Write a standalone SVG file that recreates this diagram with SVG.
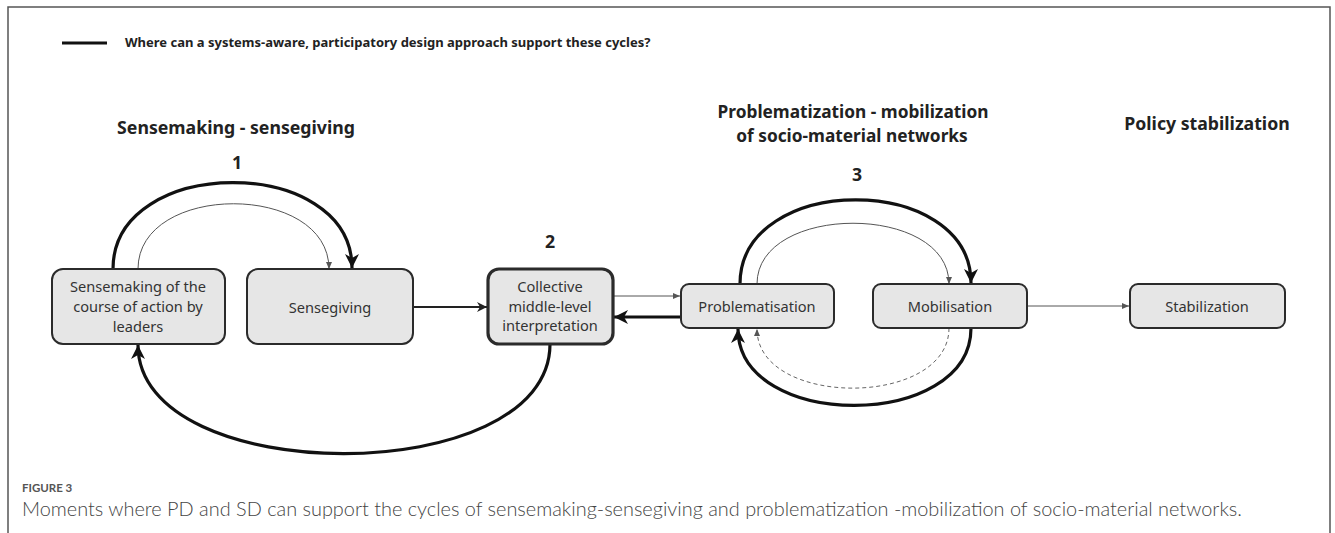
<svg xmlns="http://www.w3.org/2000/svg" width="1335" height="533" viewBox="0 0 1335 533">
<defs>
<style>
.node rect{fill:#e6e6e6;stroke:#2b2b2b;stroke-width:2}
.node.strong rect{stroke-width:3.2}
.node text{font-family:"Noto Sans","Open Sans",sans-serif;font-size:14.6px;fill:#333;text-anchor:middle}
.h{font-family:"Noto Sans","Open Sans",sans-serif;font-weight:700;font-size:17.7px;fill:#222;text-anchor:middle}
.h2{font-family:"Noto Sans","Open Sans",sans-serif;font-weight:700;font-size:17.3px;fill:#222;text-anchor:middle}
.num{font-family:"Noto Sans","Open Sans",sans-serif;font-weight:700;font-size:17.7px;fill:#222;text-anchor:middle}
.c-thick{fill:none;stroke:#111;stroke-width:3.2}
.c-thin{fill:none;stroke:#555;stroke-width:1}
.c-med{fill:none;stroke:#222;stroke-width:2.2}
.c-dash{fill:none;stroke:#666;stroke-width:1;stroke-dasharray:4 3}
</style>
<marker id="ahBig" markerUnits="userSpaceOnUse" markerWidth="16" markerHeight="14" refX="14" refY="7" orient="auto">
<path d="M0,0 L14,7 L0,14 L4,7 Z" fill="#111"/>
</marker>
<marker id="ahMed" markerUnits="userSpaceOnUse" markerWidth="12" markerHeight="12" refX="10" refY="6" orient="auto">
<path d="M0,1 L10,6 L0,11 L3,6 Z" fill="#222"/>
</marker>
<marker id="ahSmall" markerUnits="userSpaceOnUse" markerWidth="8" markerHeight="8" refX="7" refY="4" orient="auto">
<path d="M0,1 L7,4 L0,7 Z" fill="#555"/>
</marker>
</defs>
<rect x="0" y="0" width="1335" height="533" fill="#fff"/>
<path d="M8,540 L8,7 L1330,7 L1330,540" fill="none" stroke="#555" stroke-width="1.5"/>

<g id="legend">
<line x1="62" y1="43" x2="107" y2="43" stroke="#111" stroke-width="3"/>
<text x="125" y="47" font-family="Noto Sans, Open Sans, sans-serif" font-weight="700" font-size="13" fill="#222">Where can a systems-aware, participatory design approach support these cycles?</text>
</g>

<g id="headings">
<text class="h" x="236" y="134">Sensemaking - sensegiving</text>
<text class="h2" x="853" y="118">Problematization - mobilization</text>
<text class="h2" x="852" y="142">of socio-material networks</text>
<text class="h" x="1207" y="130">Policy stabilization</text>
<text class="num" x="237" y="169">1</text>
<text class="num" x="550" y="248">2</text>
<text class="num" x="857" y="181">3</text>
</g>

<g id="connectors">
<path class="c-thick" d="M113,269 C113,154 352,154 352,268" marker-end="url(#ahBig)"/>
<path class="c-thin" d="M138,269 C138,182 329,182 329,269" marker-end="url(#ahSmall)"/>
<path class="c-med" d="M412,307 L487,307" marker-end="url(#ahMed)"/>
<path class="c-thin" d="M613,296 L680,296" marker-end="url(#ahSmall)"/>
<path class="c-thick" d="M681,317 L614,317" marker-end="url(#ahBig)"/>
<path class="c-thick" d="M550,344 C550,490 138,490 138,345" marker-end="url(#ahBig)"/>
<path class="c-thick" d="M740,284 C740,172 971,172 971,283" marker-end="url(#ahBig)"/>
<path class="c-thin" d="M757,284 C757,203 949,203 949,284" marker-end="url(#ahSmall)"/>
<path class="c-thick" d="M971,328 C971,431 738,431 738,329" marker-end="url(#ahBig)"/>
<path class="c-dash" d="M949,328 C949,408 757,408 757,329" marker-end="url(#ahSmall)"/>
<path class="c-thin" d="M1027,306 L1129,306" marker-end="url(#ahSmall)"/>
</g>

<g id="n1" class="node">
<rect x="52" y="269" width="173" height="75" rx="11"/>
<text x="138" y="292">Sensemaking of the</text>
<text x="138" y="312">course of action by</text>
<text x="138" y="332">leaders</text>
</g>
<g id="n2" class="node">
<rect x="247" y="269" width="166" height="75" rx="11"/>
<text x="330" y="313">Sensegiving</text>
</g>
<g id="n3" class="node strong">
<rect x="488" y="269" width="125" height="75" rx="11"/>
<text x="550" y="292">Collective</text>
<text x="550" y="312">middle-level</text>
<text x="550" y="331">interpretation</text>
</g>
<g id="n4" class="node">
<rect x="681" y="284" width="153" height="44" rx="8"/>
<text x="757" y="312">Problematisation</text>
</g>
<g id="n5" class="node">
<rect x="873" y="284" width="154" height="44" rx="8"/>
<text x="950" y="312">Mobilisation</text>
</g>
<g id="n6" class="node">
<rect x="1130" y="284" width="155" height="44" rx="8"/>
<text x="1207" y="312">Stabilization</text>
</g>

<g id="caption">
<text x="22" y="492" font-family="Lato, Open Sans, sans-serif" font-weight="700" font-size="11.5" fill="#555">FIGURE 3</text>
<text x="22" y="516" font-family="Lato, Open Sans, sans-serif" font-weight="300" font-size="19.9" fill="#444">Moments where PD and SD can support the cycles of sensemaking-sensegiving and problematization -mobilization of socio-material networks.</text>
</g>
</svg>
